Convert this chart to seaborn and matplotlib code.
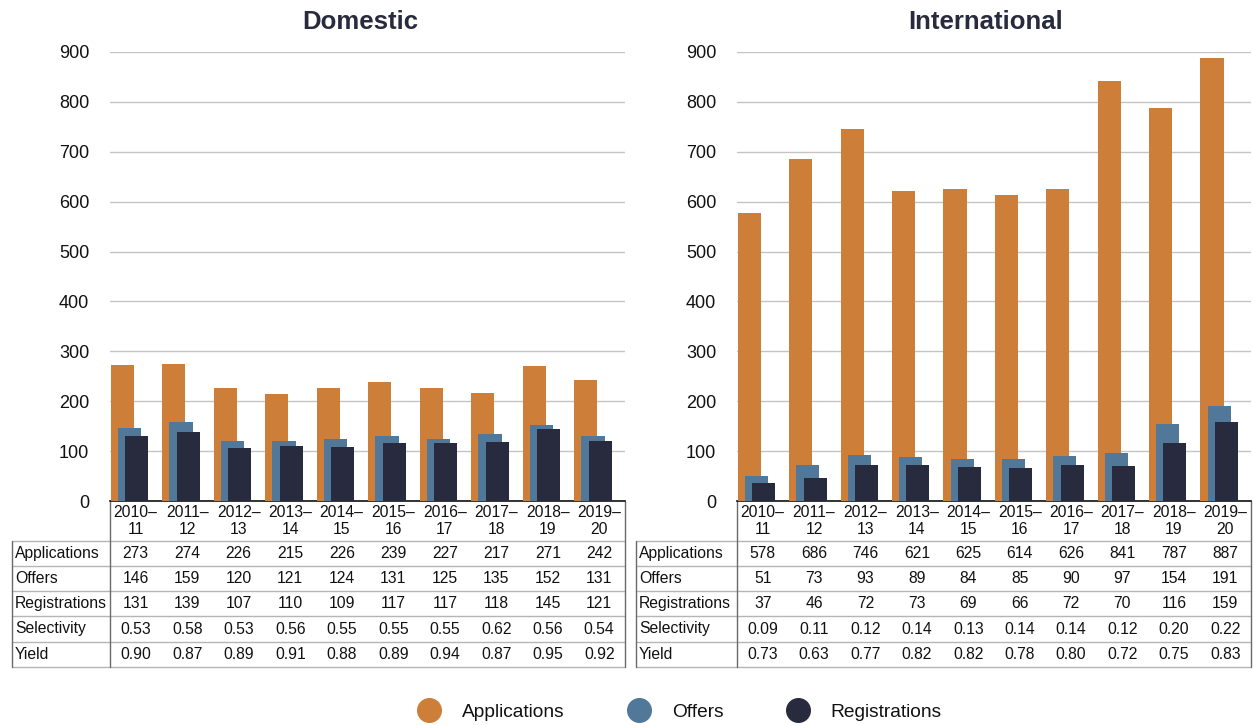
import matplotlib
matplotlib.use("Agg")
import matplotlib.pyplot as plt
from matplotlib.lines import Line2D
import seaborn as sns
import numpy as np

sns.set_theme(style="white")
plt.rcParams['font.family'] = ['Liberation Sans', 'DejaVu Sans']

# ---------------- data ----------------
years = ["2010–\n11", "2011–\n12", "2012–\n13", "2013–\n14", "2014–\n15",
         "2015–\n16", "2016–\n17", "2017–\n18", "2018–\n19", "2019–\n20"]
series_names = ["Applications", "Offers", "Registrations"]
row_labels = ["Applications", "Offers", "Registrations", "Selectivity", "Yield"]

dom_app = [273, 274, 226, 215, 226, 239, 227, 217, 271, 242]
dom_off = [146, 159, 120, 121, 124, 131, 125, 135, 152, 131]
dom_reg = [131, 139, 107, 110, 109, 117, 117, 118, 145, 121]
dom_sel = [0.53, 0.58, 0.53, 0.56, 0.55, 0.55, 0.55, 0.62, 0.56, 0.54]
dom_yld = [0.90, 0.87, 0.89, 0.91, 0.88, 0.89, 0.94, 0.87, 0.95, 0.92]

int_app = [578, 686, 746, 621, 625, 614, 626, 841, 787, 887]
int_off = [51, 73, 93, 89, 84, 85, 90, 97, 154, 191]
int_reg = [37, 46, 72, 73, 69, 66, 72, 70, 116, 159]
int_sel = [0.09, 0.11, 0.12, 0.14, 0.13, 0.14, 0.14, 0.12, 0.20, 0.22]
int_yld = [0.73, 0.63, 0.77, 0.82, 0.82, 0.78, 0.80, 0.72, 0.75, 0.83]

colors = ["#CD7F3A", "#517899", "#282A3E"]
offsets = [-0.26, -0.12, 0.02]
bar_w = 0.45

W, H = 1254, 725
fig = plt.figure(figsize=(W / 100, H / 100), dpi=100)

# overlay axes in pixel coordinates for the tables
tax = fig.add_axes([0, 0, 1, 1])
tax.set_xlim(0, W)
tax.set_ylim(H, 0)
tax.axis("off")

panels = [
    dict(title="Domestic", L=110, R=625, lab_left=12, title_x=360,
         bars=[dom_app, dom_off, dom_reg],
         rows=[dom_app, dom_off, dom_reg, dom_sel, dom_yld]),
    dict(title="International", L=737, R=1251, lab_left=636, title_x=986,
         bars=[int_app, int_off, int_reg],
         rows=[int_app, int_off, int_reg, int_sel, int_yld]),
]

TOP, BASE = 52, 501
row_edges = [541, 566, 591, 616, 642, 667]
hcol = "#b5b5b5"
vcol = "#6a6a6a"
tfs = 11.3

for p in panels:
    L, R = p["L"], p["R"]
    ax = fig.add_axes([L / W, 1 - BASE / H, (R - L) / W, (BASE - TOP) / H])
    idx = np.arange(len(years))
    for vals, c, off in zip(p["bars"], colors, offsets):
        sns.barplot(x=idx + off, y=vals, native_scale=True, width=bar_w,
                    color=c, saturation=1, linewidth=0, ax=ax, zorder=3)
    ax.set_xlim(-0.5, len(years) - 0.5)
    ax.set_ylim(0, 900)
    ax.set_yticks(range(0, 901, 100))
    ax.set_xticks([])
    ax.yaxis.grid(True, color="#c4c4c4", linewidth=1.0, zorder=0)
    ax.set_axisbelow(True)
    for s in ["left", "right", "top"]:
        ax.spines[s].set_visible(False)
    ax.spines["bottom"].set_color("#111111")
    ax.spines["bottom"].set_linewidth(1.2)
    ax.tick_params(axis="y", length=0, pad=15, labelsize=13, labelcolor="#111111")
    ax.set_xlabel("")
    ax.set_ylabel("")

    # title
    tax.text(p["title_x"], 22, p["title"], ha="center", va="center",
             fontsize=18.5, fontweight="bold", color="#282A3E")

    # table
    cw = (R - L) / len(years)
    centers = [L + (i + 0.5) * cw for i in range(len(years))]
    for cx, lab in zip(centers, years):
        tax.text(cx, 521, lab, ha="center", va="center", fontsize=tfs,
                 color="#111111", linespacing=1.1)
    for y in row_edges:
        tax.plot([p["lab_left"], R], [y, y], color=hcol, lw=1.0)
    tax.plot([p["lab_left"], p["lab_left"]], [row_edges[0], row_edges[-1]], color=vcol, lw=1.0)
    tax.plot([L, L], [BASE, row_edges[-1]], color=vcol, lw=1.0)
    tax.plot([R, R], [BASE, row_edges[-1]], color=vcol, lw=1.0)
    for r, (lab, vals) in enumerate(zip(row_labels, p["rows"])):
        yc = (row_edges[r] + row_edges[r + 1]) / 2
        tax.text(p["lab_left"] + 3, yc, lab, ha="left", va="center",
                 fontsize=tfs, color="#111111")
        for cx, v in zip(centers, vals):
            txt = f"{v:.2f}" if r >= 3 else f"{v:d}"
            tax.text(cx, yc, txt, ha="center", va="center", fontsize=tfs,
                     color="#111111")

handles = [Line2D([0], [0], marker="o", linestyle="", markersize=17,
                  markerfacecolor=c, markeredgecolor=c) for c in colors]
fig.legend(handles, series_names, loc="center", bbox_to_anchor=(676 / W, 1 - 712 / H),
           ncol=3, frameon=False, fontsize=13.8, handletextpad=0.7,
           columnspacing=2.9, labelcolor="#111111")

fig.savefig("out.png", dpi=100)
